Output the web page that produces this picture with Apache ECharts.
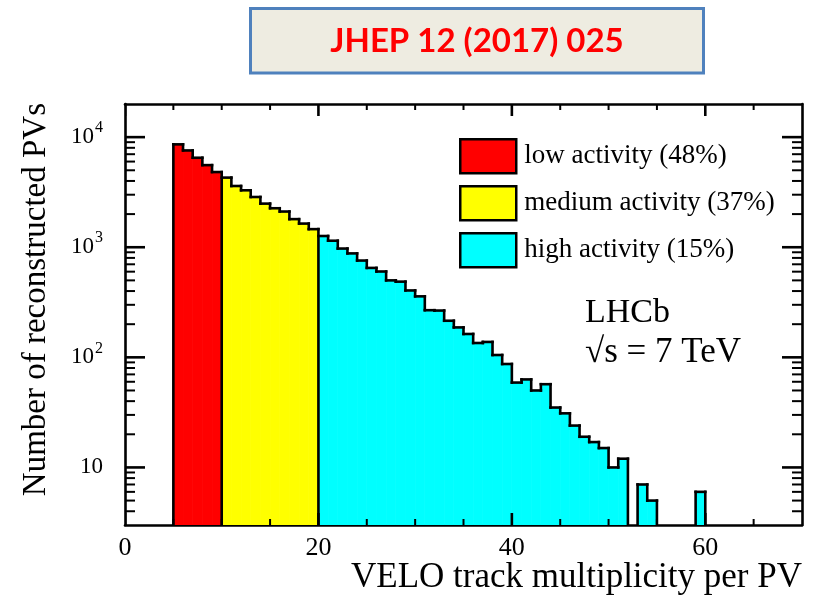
<!DOCTYPE html>
<html>
<head>
<meta charset="utf-8">
<script src="https://cdn.jsdelivr.net/npm/echarts@6/dist/echarts.min.js"></script>
<style>html,body{margin:0;padding:0;background:#fff}#c{width:815px;height:601px}</style>
</head>
<body>
<div id="c"></div>
<script>
// ---------------- data ----------------
const firstBinEdge = 5;          // left edge of first filled bin
const binWidth = 1;
// counts per bin, bins [5,6), [6,7), ... [59,60)
const counts = [8600, 7570, 6500, 5570, 4820,
  4290, 3600, 3290, 2860, 2490, 2260, 2110, 1800, 1640, 1460,
  1265, 1146, 973, 879, 757, 649, 602, 500, 487, 405, 358, 268, 266, 215, 187,
  163, 135, 138, 105, 87, 59, 63, 50, 57, 35, 31, 24, 19, 17, 15, 10, 12, 0,
  7, 5, 0, 0, 0, 0, 6];
const regionNames = ['low activity (48%)', 'medium activity (37%)', 'high activity (15%)'];
const regionEdges = [5, 10, 20, 60];
const xTickLabels = [0, 20, 40, 60];
const xMinorTicks = [5, 10, 15, 25, 30, 35, 45, 50, 55, 65];
const yMajorTicks = [10, 100, 1000, 10000];
const yMinorTicks = [4, 5, 6, 7, 8, 9, 20, 30, 40, 50, 60, 70, 80, 90,
  200, 300, 400, 500, 600, 700, 800, 900, 2000, 3000, 4000, 5000, 6000, 7000, 8000, 9000];
const titleText = 'JHEP 12 (2017) 025';
const xTitle = 'VELO track multiplicity per PV';
const yTitle = 'Number of reconstructed PVs';
const noteLines = ['LHCb', '\u221As = 7 TeV'];

// ---------------- styles ----------------
const regionColors = ['#FF0000', '#FFFF00', '#00FFFF'];
const serif = 'Liberation Serif, Times New Roman, serif';
const X_MIN = 0, X_MAX = 70, Y_MIN = 3, Y_MAX = 20000;

// ---------------- build ----------------
const bins = counts.map((c, i) => {
  const x0 = firstBinEdge + i * binWidth;
  return { x0: x0, x1: x0 + binWidth, c: c, prev: i > 0 ? counts[i - 1] : 0 };
});

// frame ticks: [x, y, length, width, kind(0 = y tick, 1 = x tick)]
const tickData = [];
yMajorTicks.forEach(v => tickData.push([X_MIN, v, 20, 2.6, 0]));
yMinorTicks.forEach(v => tickData.push([X_MIN, v, 10, 2, 0]));
xTickLabels.forEach(v => tickData.push([v, Y_MIN, 12, 2.6, 1]));
xMinorTicks.forEach(v => tickData.push([v, Y_MIN, 6, 2, 1]));

function fillSeries(r) {
  const lo = regionEdges[r], hi = regionEdges[r + 1];
  return {
    type: 'custom',
    name: regionNames[r],
    coordinateSystem: 'cartesian2d',
    clip: true,
    z: 2,
    itemStyle: { color: regionColors[r] },
    encode: { x: [0, 1], y: 2 },
    data: bins.filter(b => b.x0 >= lo && b.x0 < hi && b.c > 0).map(b => [b.x0, b.x1, b.c]),
    renderItem: function (params, api) {
      const cs = params.coordSys;
      const base = cs.y + cs.height;
      const p0 = api.coord([api.value(0), api.value(2)]);
      const p1 = api.coord([api.value(1), api.value(2)]);
      return {
        type: 'rect',
        shape: { x: p0[0], y: p0[1], width: p1[0] - p0[0], height: base - p0[1] },
        style: { fill: regionColors[r], stroke: regionColors[r], lineWidth: 0.8 }
      };
    }
  };
}

const outlineData = bins.map((b, i) => [b.x0, b.x1, b.c, b.prev,
  regionEdges.slice(0, -1).indexOf(b.x0) >= 0 ? 1 : 0, i === bins.length - 1 ? 1 : 0]);

const outlineSeries = {
  type: 'custom',
  name: 'outline',
  coordinateSystem: 'cartesian2d',
  clip: true,
  silent: true,
  z: 3,
  encode: { x: [0, 1] },
  data: outlineData,
  renderItem: function (params, api) {
    const cs = params.coordSys;
    const base = cs.y + cs.height;
    const xa = api.coord([api.value(0), 10])[0];
    const xb = api.coord([api.value(1), 10])[0];
    const c = api.value(2), p = api.value(3);
    const yc = c > 0 ? api.coord([api.value(0), c])[1] : base;
    const yp = p > 0 ? api.coord([api.value(0), p])[1] : base;
    const ln = (x1, y1, x2, y2, w) => ({ type: 'line', shape: { x1: x1, y1: y1, x2: x2, y2: y2 },
      style: { stroke: '#000', lineWidth: w || 2.6, lineCap: 'square' } });
    const ch = [];
    if (api.value(4) === 1) ch.push(ln(xa, base, xa, Math.min(yc, yp)));
    else if (Math.abs(yc - yp) > 0.01) ch.push(ln(xa, yp, xa, yc));
    if (c > 0) ch.push(ln(xa, yc, xb, yc));
    if (api.value(5) === 1 && c > 0) ch.push(ln(xb, yc, xb, base));
    // frame ticks drawn together with the first bin's outline
    if (params.dataIndex === 0) {
      const left = cs.x, right = cs.x + cs.width, top = cs.y;
      tickData.forEach(t => {
        const q = api.coord([t[0], t[1]]);
        const len = t[2], w = t[3];
        if (t[4] === 0) {
          ch.push(ln(left, q[1], left + len - w / 2, q[1], w));
          ch.push(ln(right, q[1], right - len + w / 2, q[1], w));
        } else {
          ch.push(ln(q[0], base, q[0], base - len + w / 2, w));
          ch.push(ln(q[0], top, q[0], top + len - w / 2, w));
        }
      });
    }
    return { type: 'group', children: ch };
  }
};

function isMajor(v) { return yMajorTicks.some(t => Math.abs(t - v) / t < 1e-6); }
function yLabel(v) {
  if (!isMajor(v)) return '';
  const e = Math.round(Math.log10(v));
  return e === 1 ? '{b|10}' : '{b|10}{s|' + e + '}';
}

const axisLineStyle = { show: true, onZero: false, lineStyle: { color: '#000', width: 2.6 } };
function xAx(pos, labels) {
  return {
    type: 'value', min: X_MIN, max: X_MAX, interval: 20, position: pos,
    axisLine: axisLineStyle,
    axisTick: { show: false },
    axisLabel: labels ? {
      show: true, margin: 10, color: '#000', fontSize: 26, fontFamily: serif,
      formatter: v => xTickLabels.indexOf(v) >= 0 ? String(v) : ''
    } : { show: false },
    splitLine: { show: false }
  };
}
function yAx(pos, labels) {
  return {
    type: 'log', logBase: 10, min: Y_MIN, max: Y_MAX, position: pos,
    axisLine: axisLineStyle,
    axisTick: { show: false },
    axisLabel: labels ? {
      show: true, margin: 22, color: '#000', fontSize: 23, fontFamily: serif, formatter: yLabel,
      rich: {
        b: { fontSize: 23, fontFamily: serif, color: '#000' },
        s: { fontSize: 16, fontFamily: serif, color: '#000', padding: [0, 0, 18, 1] }
      }
    } : { show: false },
    splitLine: { show: false }
  };
}

const option = {
  animation: false,
  grid: { left: 125, right: 13, top: 104, bottom: 76 },
  xAxis: [xAx('bottom', true), xAx('top', false)],
  yAxis: [yAx('left', true), yAx('right', false)],
  legend: {
    orient: 'vertical', left: 459, top: 138, padding: 0,
    itemWidth: 56, itemHeight: 34, itemGap: 10.5, icon: 'rect',
    selectedMode: false,
    textStyle: { fontSize: 27, fontFamily: serif, color: '#000', padding: [0, 0, 0, 3] },
    data: regionNames.map((n, i) => ({ name: n, icon: 'rect',
      itemStyle: { color: regionColors[i], borderColor: '#000', borderWidth: 2.5 } }))
  },
  series: [fillSeries(0), fillSeries(1), fillSeries(2), outlineSeries],
  graphic: [
    { type: 'rect', shape: { x: 250.5, y: 8.5, width: 453, height: 64.5 },
      style: { fill: '#EEECE1', stroke: '#4F81BD', lineWidth: 3 } },
    { type: 'text', x: 477, y: 41,
      style: { text: titleText, fill: '#FF0000', font: 'bold 33px Lato, sans-serif',
        textAlign: 'center', textVerticalAlign: 'middle' } },
    { type: 'text', x: 36, y: 103, rotation: Math.PI / 2,
      style: { text: yTitle, fill: '#000', font: '33px ' + serif,
        textAlign: 'right', textVerticalAlign: 'middle' } },
    { type: 'text', x: 802, y: 578,
      style: { text: xTitle, fill: '#000', font: '35px ' + serif,
        textAlign: 'right', textVerticalAlign: 'middle' } },
    { type: 'text', x: 585, y: 313,
      style: { text: noteLines[0], fill: '#000', font: '34px ' + serif,
        textAlign: 'left', textVerticalAlign: 'middle' } },
    { type: 'text', x: 585, y: 353,
      style: { text: noteLines[1], fill: '#000', font: '35px ' + serif,
        textAlign: 'left', textVerticalAlign: 'middle' } }
  ]
};

const chart = echarts.init(document.getElementById('c'));
chart.setOption(option);
</script>
</body>
</html>
